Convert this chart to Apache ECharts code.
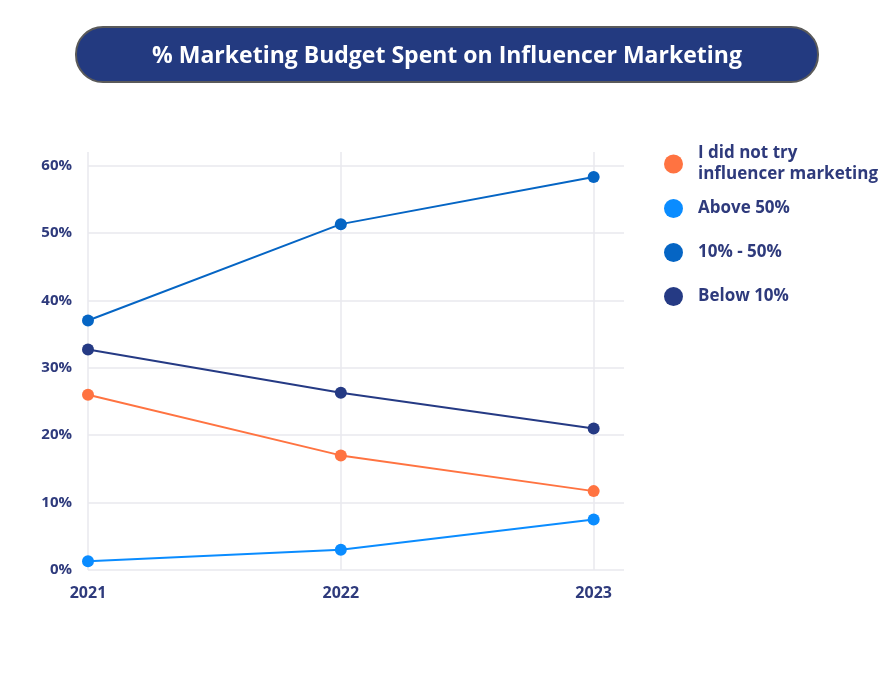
<!DOCTYPE html>
<html>
<head>
<meta charset="utf-8">
<style>
  html, body { margin: 0; padding: 0; background: #fff; }
  #main { width: 896px; height: 678px; }
</style>
<script src="https://cdn.jsdelivr.net/npm/echarts@6/dist/echarts.min.js"></script>
</head>
<body>
<div id="main"></div>
<script>
const years = [2021, 2022, 2023];
const seriesNames = ["I did not try influencer marketing", "Above 50%", "10% - 50%", "Below 10%"];
const didNotTry = [26.0, 17.0, 11.7];
const above50 = [1.3, 3.0, 7.5];
const between10and50 = [37.0, 51.3, 58.3];
const below10 = [32.7, 26.3, 21.0];
const colors = ["#ff7341", "#0a8cff", "#0565c4", "#253a84"];

const textColor = "#2e3a7c";
const font = "Open Sans";

function pairs(values) {
  return values.map(function (v, i) { return [years[i], v]; });
}

const allValues = [didNotTry, above50, between10and50, below10];
const legendTops = [143, 198, 242, 286];

const options = {
  backgroundColor: "#fff",
  graphic: [
    {
      type: "rect",
      shape: { x: 76, y: 27, width: 742, height: 55, r: 27 },
      style: { fill: "#233a80", stroke: "#5a5a5a", lineWidth: 2 }
    },
    {
      type: "text",
      x: 447,
      y: 56,
      style: {
        text: "% Marketing Budget Spent on Influencer Marketing",
        fill: "#fff",
        font: "bold 23px 'Open Sans'",
        align: "center",
        verticalAlign: "middle"
      }
    }
  ],
  legend: seriesNames.map(function (name, i) {
    return {
      data: [name],
      orient: "vertical",
      left: 664,
      top: legendTops[i],
      padding: 0,
      icon: "circle",
      itemWidth: 19,
      itemHeight: 19,
      formatter: function (n) {
        return n === seriesNames[0] ? "I did not try\ninfluencer marketing" : n;
      },
      textStyle: {
        color: textColor,
        fontFamily: font,
        fontWeight: "bold",
        fontSize: 17,
        lineHeight: 21,
        padding: [0, 0, 0, 10]
      }
    };
  }),
  grid: { left: 88, right: 272, top: 152, bottom: 108 },
  xAxis: {
    type: "value",
    min: 2021,
    max: 2023.12,
    interval: 1,
    axisLine: { show: false },
    axisTick: { show: false },
    axisLabel: {
      showMaxLabel: false,
      margin: 15,
      color: textColor,
      fontFamily: font,
      fontWeight: "bold",
      fontSize: 16,
      formatter: function (v) { return String(Math.round(v)); }
    },
    splitLine: { show: true, showMaxLine: false, lineStyle: { color: "#e8e8ee", width: 1.5 } }
  },
  yAxis: {
    type: "value",
    min: 0,
    max: 62,
    interval: 10,
    axisLine: { show: false },
    axisTick: { show: false },
    axisLabel: {
      showMaxLabel: false,
      margin: 16,
      color: textColor,
      fontFamily: font,
      fontWeight: "bold",
      fontSize: 15,
      formatter: "{value}%"
    },
    splitLine: { show: true, showMaxLine: false, lineStyle: { color: "#e8e8ee", width: 1.5 } }
  },
  series: seriesNames.map(function (name, i) {
    return {
      name: name,
      type: "line",
      data: pairs(allValues[i]),
      color: colors[i],
      symbol: "circle",
      symbolSize: 12,
      lineStyle: { width: 2 },
      z: 2 + i
    };
  })
};

var myChart = echarts.init(document.getElementById("main"));
myChart.setOption(options);
</script>
</body>
</html>
